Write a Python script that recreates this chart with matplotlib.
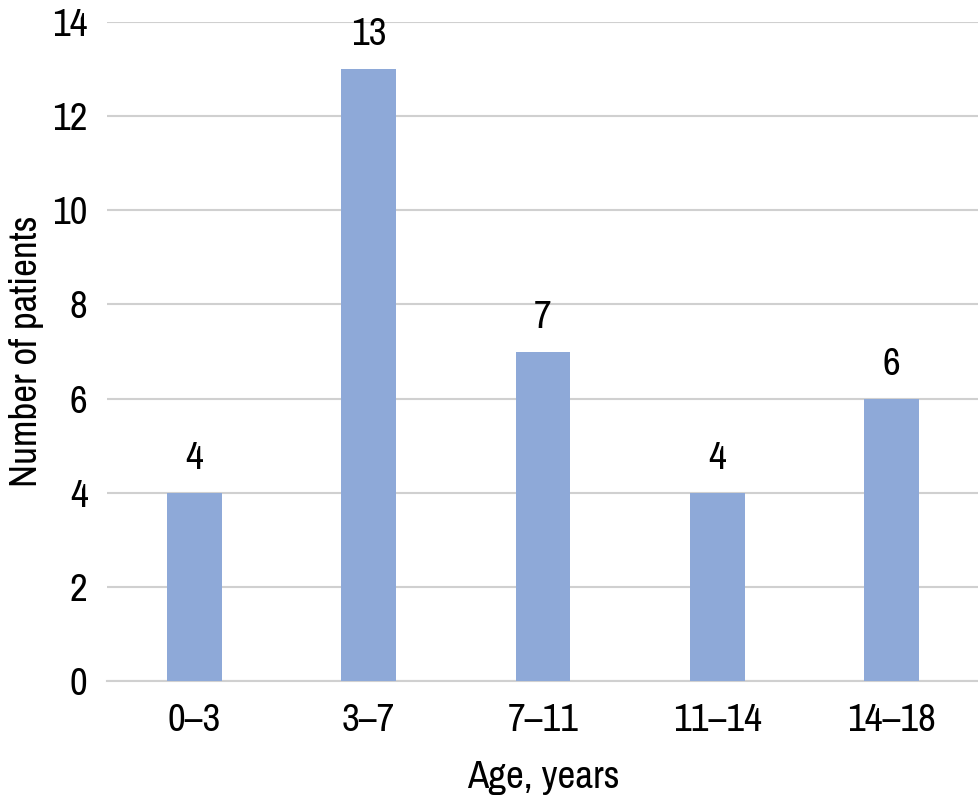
import matplotlib
matplotlib.use("Agg")
import matplotlib.pyplot as plt
from matplotlib import font_manager

# data
age_groups = ["0\u20133", "3\u20137", "7\u201311", "11\u201314", "14\u201318"]
patients = [4, 13, 7, 4, 6]
y_ticks = [0, 2, 4, 6, 8, 10, 12, 14]

BAR_COLOR = "#8EA9D8"
GRID_COLOR = "#D0D0D0"
FS = 28

# pick a condensed face if one is installed, the reference uses a narrow font
names = sorted({f.name for f in font_manager.fontManager.ttflist})
cond = [n for n in names if 'Condensed' in n or 'Narrow' in n]
plt.rcParams['font.family'] = cond[:1] + ['DejaVu Sans']
plt.rcParams['font.stretch'] = 'condensed'

fig = plt.figure(figsize=(9.79, 8.0), dpi=100)
ax = fig.add_axes([0.1093, 0.14875, 0.8907, 0.82375])

x = range(len(age_groups))
ax.bar(x, patients, width=0.315, color=BAR_COLOR, zorder=3)
for xi, v in zip(x, patients):
    ax.text(xi, v + 0.36, str(v), ha='center', va='bottom', fontsize=FS, color='black')

ax.set_xlim(-0.5, len(age_groups) - 0.5)
ax.set_ylim(0, 14)
ax.set_yticks(y_ticks)
ax.set_xticks(list(x))
ax.set_xticklabels(age_groups)
ax.tick_params(axis='both', length=0, labelsize=FS, colors='black')
ax.tick_params(axis='x', pad=16)
ax.tick_params(axis='y', pad=14)
ax.grid(axis='y', color=GRID_COLOR, linewidth=1.5, zorder=0)
for s in ['top', 'right', 'left']:
    ax.spines[s].set_visible(False)
ax.spines['bottom'].set_color(GRID_COLOR)
ax.spines['bottom'].set_linewidth(1.5)

ax.set_xlabel("Age, years", fontsize=FS, labelpad=16)
ax.set_ylabel("Number of patients", fontsize=FS, labelpad=6)

fig.savefig("out.png", dpi=100)
